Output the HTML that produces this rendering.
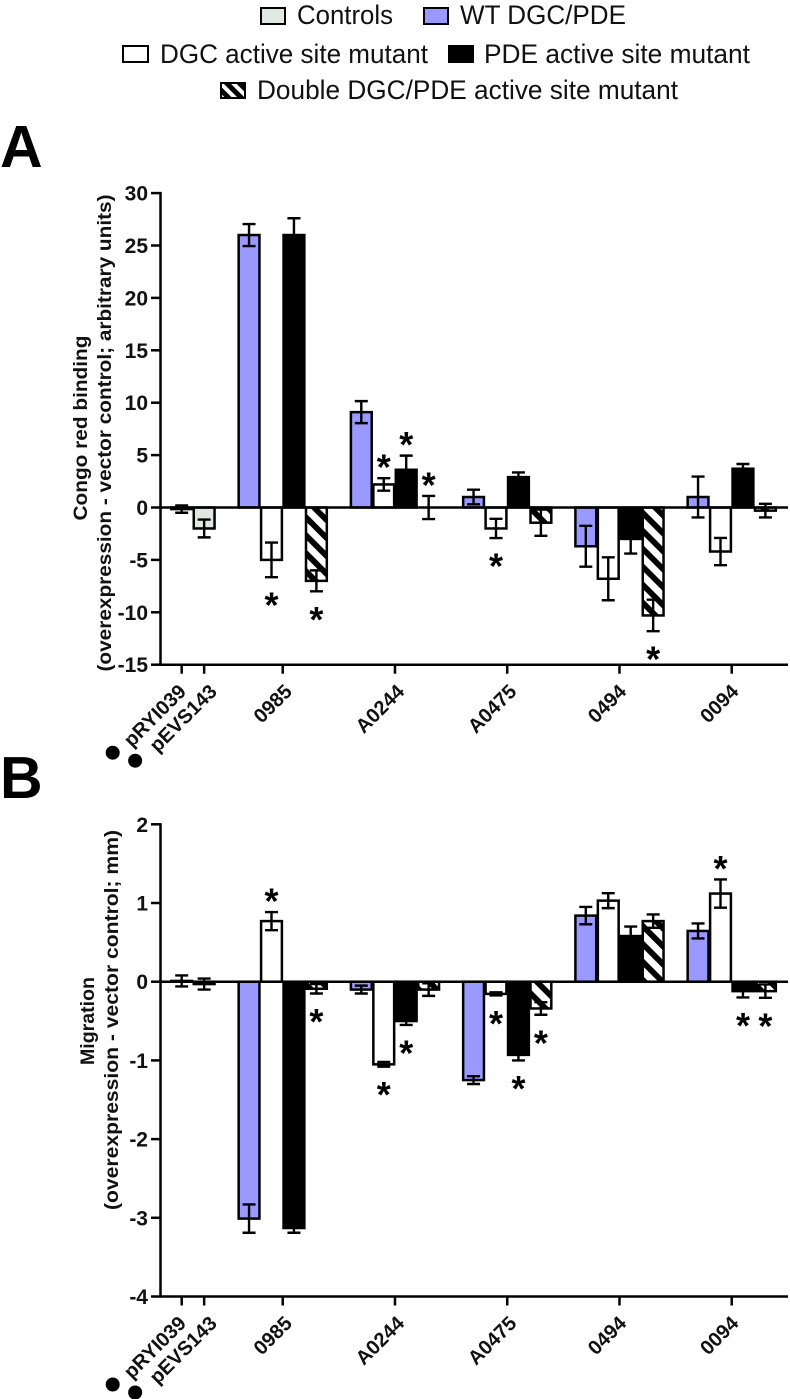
<!DOCTYPE html>
<html lang="en">
<head>
<meta charset="utf-8">
<title>Congo red binding and migration</title>
<style>
html,body{margin:0;padding:0;background:#fff;}
svg{display:block;font-family:"Liberation Sans",sans-serif;}
.leg{font-size:27px;fill:#111;}
.panel{font-size:59px;font-weight:bold;fill:#000;}
.tick{font-size:21px;font-weight:bold;text-anchor:end;fill:#111;}
.cat{font-size:20px;font-weight:bold;text-anchor:end;fill:#111;}
.title{font-size:19.5px;font-weight:bold;text-anchor:middle;fill:#111;}
.star{font-size:36px;font-weight:bold;text-anchor:middle;fill:#000;}
</style>
</head>
<body>
<svg id="figure" xmlns="http://www.w3.org/2000/svg" width="790" height="1399" viewBox="0 0 790 1399">
<defs>
<pattern id="hatch" patternUnits="userSpaceOnUse" width="12.7" height="12.7" patternTransform="rotate(-45)">
<rect width="12.7" height="12.7" fill="#fff"/><rect width="5.8" height="12.7" fill="#000"/>
</pattern>
<pattern id="hatch-small" patternUnits="userSpaceOnUse" width="9" height="9" patternTransform="rotate(-45)">
<rect width="9" height="9" fill="#fff"/><rect width="5" height="9" fill="#000"/>
</pattern>
</defs>
<rect width="790" height="1399" fill="#fff"/>
<g>
<g><rect x="261" y="8" width="24" height="16" fill="#dfe8e3" stroke="#000" stroke-width="2"/><text class="leg" x="297" y="24" textLength="96" lengthAdjust="spacingAndGlyphs">Controls</text></g>
<g><rect x="424" y="8" width="24" height="16" fill="#9999ff" stroke="#000" stroke-width="2"/><text class="leg" x="460" y="24" textLength="166" lengthAdjust="spacingAndGlyphs">WT DGC/PDE</text></g>
<g><rect x="123" y="46" width="25" height="16" fill="#fff" stroke="#000" stroke-width="2"/><text class="leg" x="160" y="63" textLength="268" lengthAdjust="spacingAndGlyphs">DGC active site mutant</text></g>
<g><rect x="449" y="46" width="24" height="16" fill="#000" stroke="#000" stroke-width="2"/><text class="leg" x="484" y="63" textLength="266" lengthAdjust="spacingAndGlyphs">PDE active site mutant</text></g>
<g><rect x="221" y="83" width="24" height="15" fill="url(#hatch-small)" stroke="#000" stroke-width="2"/><text class="leg" x="257" y="99" textLength="421" lengthAdjust="spacingAndGlyphs">Double DGC/PDE active site mutant</text></g>
</g>
<text class="panel" x="0" y="167">A</text>
<text class="panel" x="0" y="798">B</text>
<text class="title" transform="translate(87,428) rotate(-90)" textLength="185" lengthAdjust="spacingAndGlyphs">Congo red binding</text>
<text class="title" transform="translate(111,433) rotate(-90)" textLength="477" lengthAdjust="spacingAndGlyphs">(overexpression - vector control; arbitrary units)</text>
<text class="title" transform="translate(94,1021) rotate(-90)" textLength="88" lengthAdjust="spacingAndGlyphs">Migration</text>
<text class="title" transform="translate(118,1020) rotate(-90)" textLength="380" lengthAdjust="spacingAndGlyphs">(overexpression - vector control; mm)</text>
<g id="chart-a"></g>
<g id="chart-b"></g>
</svg>
<script>
// Shared categories
const controlLabels = ['pRYI039', 'pEVS143'];
const groupLabels = ['0985', 'A0244', 'A0475', '0494', '0094'];

// Panel A: Congo red binding
const congoTicks = [30, 25, 20, 15, 10, 5, 0, -5, -10, -15];
const congoControls = [-0.15, -2];
const congoControlsErr = [0.35, 0.85];
const congoWT = [26, 9.1, 1, -3.7, 1];
const congoWTErr = [1.05, 1.05, 0.7, 1.95, 1.95];
const congoDGC = [-5, 2.2, -2, -6.8, -4.2];
const congoDGCErr = [1.65, 0.6, 0.92, 2.05, 1.3];
const congoPDE = [26, 3.6, 2.9, -3, 3.7];
const congoPDEErr = [1.6, 1.35, 0.45, 1.4, 0.45];
const congoDouble = [-7, 0, -1.45, -10.3, -0.3];
const congoDoubleErr = [1, 1.1, 1.25, 1.5, 0.65];
const congoStarsDGC = [-1, 1, -1, 0, 0];
const congoStarsPDE = [0, 1, 0, 0, 0];
const congoStarsDouble = [-1, 1, 0, -1, 0];

// Panel B: Migration
const migrationTicks = [2, 1, 0, -1, -2, -3, -4];
const migrationControls = [0.01, -0.03];
const migrationControlsErr = [0.07, 0.07];
const migrationWT = [-3.01, -0.1, -1.25, 0.84, 0.645];
const migrationWTErr = [0.18, 0.05, 0.05, 0.11, 0.095];
const migrationDGC = [0.77, -1.05, -0.155, 1.03, 1.12];
const migrationDGCErr = [0.115, 0.03, 0.02, 0.095, 0.18];
const migrationPDE = [-3.13, -0.5, -0.93, 0.58, -0.12];
const migrationPDEErr = [0.06, 0.05, 0.07, 0.12, 0.08];
const migrationDouble = [-0.09, -0.1, -0.34, 0.77, -0.12];
const migrationDoubleErr = [0.06, 0.08, 0.08, 0.085, 0.085];
const migrationStarsDGC = [1, -1, -1, 0, 1];
const migrationStarsPDE = [0, -1, -1, 0, -1];
const migrationStarsDouble = [-1, 0, -1, 0, -1];

const NS = 'http://www.w3.org/2000/svg';

function make(parent, tag, attrs, text) {
  const node = document.createElementNS(NS, tag);
  for (const key in attrs) node.setAttribute(key, attrs[key]);
  if (text !== undefined) node.textContent = text;
  parent.appendChild(node);
  return node;
}

// Horizontal band axis: control bars take bands 0,1; each group takes four bands after a one-band gap.
function xBand(band) { return 181.7 + 22.45 * band; }
function controlBand(i) { return i; }
function groupBand(g, member) { return 3 + 5 * g + member; }

function labelNudge(name) {
  if (name === 'pRYI039') return 5.5;
  if (name === 'pEVS143') return 14;
  if (name === '0494' || name === '0094') return 8;
  return 10.5;
}

function drawBar(root, scaleY, band, value, err, fill, star, label) {
  const x = xBand(band);
  const y0 = scaleY(0);
  const y1 = scaleY(value);

  const bar = make(root, 'rect', {
    x: x - 10.4, y: Math.min(y0, y1), width: 20.8, height: Math.abs(y1 - y0),
    fill: fill, stroke: '#000', 'stroke-width': 2.5
  });
  
  

  const top = scaleY(value + err);
  const bottom = scaleY(value - err);
  const whisker = make(root, 'path', {
    d: 'M' + x + ' ' + top + 'V' + bottom + 'M' + (x - 6.5) + ' ' + top + 'H' + (x + 6.5) + 'M' + (x - 6.5) + ' ' + bottom + 'H' + (x + 6.5),
    fill: 'none', stroke: '#000', 'stroke-width': 2.4
  });
  
  

  if (star !== 0) {
    const centre = star > 0 ? top - 19 : bottom + 20;
    const mark = make(root, 'text', { class: 'star', x: x, y: centre + 20.5 }, '*');
    
    
  }
}

function drawChart(cfg) {
  const root = document.getElementById(cfg.id);
  const scaleY = function (v) { return cfg.zeroY - v * cfg.unit; };
  const axisBottom = scaleY(cfg.ticks[cfg.ticks.length - 1]);
  const axisTop = scaleY(cfg.ticks[0]);
  const axisLeft = 160.5;
  const axisRight = 788;

  controlLabels.forEach(function (name, i) {
    drawBar(root, scaleY, controlBand(i), cfg.controls[i], cfg.controlsErr[i], '#dfe8e3', 0, cfg.tag + '-' + name);
  });
  groupLabels.forEach(function (name, g) {
    const tag = cfg.tag + '-' + name;
    drawBar(root, scaleY, groupBand(g, 0), cfg.wt[g], cfg.wtErr[g], '#9999ff', 0, tag + '-wt');
    drawBar(root, scaleY, groupBand(g, 1), cfg.dgc[g], cfg.dgcErr[g], '#fff', cfg.starsDGC[g], tag + '-dgc');
    drawBar(root, scaleY, groupBand(g, 2), cfg.pde[g], cfg.pdeErr[g], '#000', cfg.starsPDE[g], tag + '-pde');
    drawBar(root, scaleY, groupBand(g, 3), cfg.dbl[g], cfg.dblErr[g], 'url(#hatch)', cfg.starsDouble[g], tag + '-double');
  });

  const yAxis = make(root, 'line', { x1: axisLeft, x2: axisLeft, y1: axisTop - 1.2, y2: axisBottom + 1.2, stroke: '#000', 'stroke-width': 2.5 });
  
  

  const zeroLine = make(root, 'line', { x1: axisLeft, x2: axisRight, y1: scaleY(0), y2: scaleY(0), stroke: '#000', 'stroke-width': 2.5 });
  
  

  const xAxis = make(root, 'line', { x1: axisLeft, x2: axisRight, y1: axisBottom, y2: axisBottom, stroke: '#000', 'stroke-width': 2.5 });
  
  

  cfg.ticks.forEach(function (t) {
    const y = scaleY(t);
    const mark = make(root, 'line', { x1: 151, x2: axisLeft, y1: y, y2: y, stroke: '#000', 'stroke-width': 2.5 });
    
    
    const label = make(root, 'text', { class: 'tick', x: 148, y: y + 7.5 }, String(t));
    
    
  });

  function xLabel(band, name) {
    const x = xBand(band);
    const mark = make(root, 'line', { x1: x, x2: x, y1: axisBottom, y2: axisBottom + 9, stroke: '#000', 'stroke-width': 2.5 });
    
    
    const tx = x + labelNudge(name);
    const ty = axisBottom + 28;
    const label = make(root, 'text', { class: 'cat', transform: 'translate(' + tx + ',' + ty + ') rotate(-45)' }, name);
    
    
  }

  controlLabels.forEach(function (name, i) {
    xLabel(controlBand(i), name);
    const bx = xBand(controlBand(i));
    const dot = make(root, 'circle', { cx: bx - 69, cy: axisBottom + 88 + i * 8, r: 7, fill: '#000' });
    
    
  });
  groupLabels.forEach(function (name, g) {
    xLabel(groupBand(g, 1.5), name);
  });
}

drawChart({
  id: 'chart-a', tag: 'a', zeroY: 507.5, unit: 10.48, ticks: congoTicks,
  controls: congoControls, controlsErr: congoControlsErr,
  wt: congoWT, wtErr: congoWTErr, dgc: congoDGC, dgcErr: congoDGCErr,
  pde: congoPDE, pdeErr: congoPDEErr, dbl: congoDouble, dblErr: congoDoubleErr,
  starsDGC: congoStarsDGC, starsPDE: congoStarsPDE, starsDouble: congoStarsDouble
});
drawChart({
  id: 'chart-b', tag: 'b', zeroY: 981.7, unit: 78.7, ticks: migrationTicks,
  controls: migrationControls, controlsErr: migrationControlsErr,
  wt: migrationWT, wtErr: migrationWTErr, dgc: migrationDGC, dgcErr: migrationDGCErr,
  pde: migrationPDE, pdeErr: migrationPDEErr, dbl: migrationDouble, dblErr: migrationDoubleErr,
  starsDGC: migrationStarsDGC, starsPDE: migrationStarsPDE, starsDouble: migrationStarsDouble
});
</script>
</body>
</html>
